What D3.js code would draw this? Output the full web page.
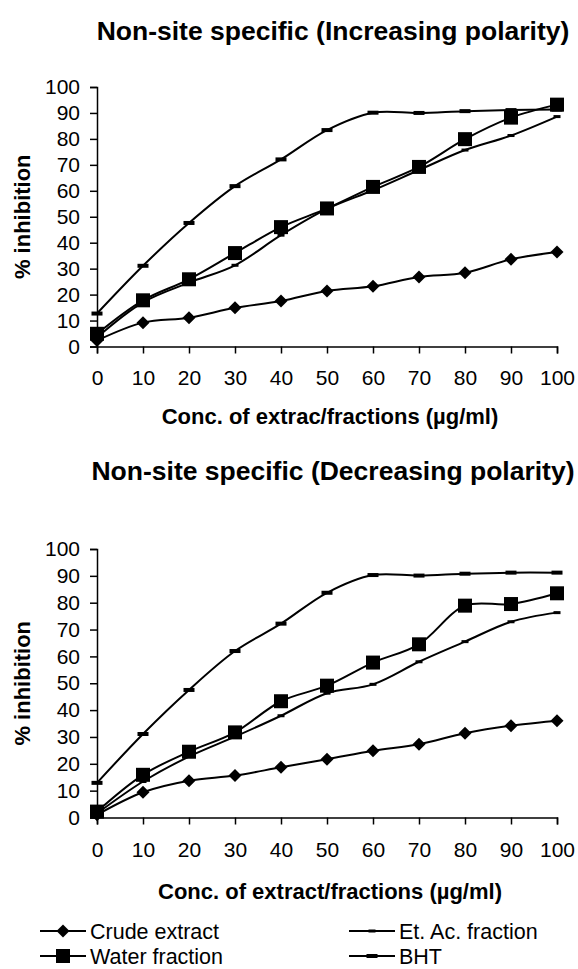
<!DOCTYPE html>
<html>
<head>
<meta charset="utf-8">
<title>Non-site specific inhibition</title>
<script src="https://cdnjs.cloudflare.com/ajax/libs/d3/7.8.5/d3.min.js"></script>
<style>
	body { margin: 0; background: #fff; }
	svg text { font-family: "Liberation Sans", Arial, Helvetica, sans-serif; fill: #000; }
</style>
</head>
<body>
<div id="chart"></div>
<script type="text/javascript">
	var width = 578;
	var height = 969;

	// concentrations (µg/ml)
	var conc = [0, 10, 20, 30, 40, 50, 60, 70, 80, 90, 100];
	var yTicks = [0, 10, 20, 30, 40, 50, 60, 70, 80, 90, 100];

	// increasing polarity
	var crudeInc = [2.3, 9.2, 11.1, 14.9, 17.5, 21.4, 23.2, 26.8, 28.4, 33.6, 36.4];
	var etacInc = [3.5, 17, 24.6, 31.3, 42.9, 53, 60.2, 68, 75.7, 81.3, 88.6];
	var waterInc = [4.9, 17.8, 25.9, 36, 46, 53.2, 61.5, 69.2, 79.9, 88.2, 93.2];
	var bhtInc = [12.7, 31.1, 47.6, 61.8, 72.1, 83.4, 90.1, 90, 90.7, 91.1, 91.3];

	// decreasing polarity
	var crudeDec = [1, 9.4, 13.7, 15.6, 18.7, 21.7, 24.9, 27.3, 31.4, 34.2, 36];
	var etacDec = [1.5, 13.4, 22.7, 30.1, 37.9, 46.3, 49.6, 58, 65.5, 72.9, 76.3];
	var waterDec = [2.2, 15.9, 24.5, 31.7, 43.3, 49.1, 57.7, 64.5, 78.9, 79.5, 83.5];
	var bhtDec = [12.9, 31.1, 47.5, 62, 72.2, 83.7, 90.3, 90.1, 90.8, 91.2, 91.2];

	var seriesNames = ["Crude extract", "Et. Ac. fraction", "Water fraction", "BHT"];
	var markerTypes = ["diamond", "smallDash", "square", "dash"];

	var svg = d3.select("#chart")
		.append("svg")
		.attr("width", width)
		.attr("height", height);

	// draws one marker at (0,0) inside g
	function drawMarker(g, type) {
		if (type == "diamond") {
			g.append("path").attr("d", "M0,-6.5L6.5,0L0,6.5L-6.5,0Z").attr("fill", "#000");
		} else if (type == "square") {
			g.append("rect").attr("x", -7).attr("y", -7).attr("width", 14).attr("height", 14).attr("fill", "#000");
		} else if (type == "dash") {
			g.append("rect").attr("x", -5.5).attr("y", -2).attr("width", 11).attr("height", 4).attr("fill", "#000");
		} else {
			g.append("rect").attr("x", -3.5).attr("y", -1.5).attr("width", 7).attr("height", 3).attr("fill", "#000");
		}
	}

	function drawPanel(opts) {
		var x = d3.scaleLinear().domain([0, 100]).range([97, 557]);
		var y = d3.scaleLinear().domain([0, 100]).range([opts.bottom, opts.top]);

		var g = svg.append("g");

		g.append("text")
			.attr("x", 333)
			.attr("y", opts.titleY)
			.attr("text-anchor", "middle")
			.attr("font-size", "26.5px")
			.attr("font-weight", "bold")
			.text(opts.title);

		var xAxis = d3.axisBottom(x).tickValues(conc).tickSize(7).tickPadding(opts.xPad).tickFormat(d3.format("d"));
		var yAxis = d3.axisLeft(y).tickValues(yTicks).tickSize(7).tickPadding(10).tickFormat(d3.format("d"));

		var gx = g.append("g").attr("transform", "translate(0," + opts.bottom + ")").call(xAxis);
		var gy = g.append("g").attr("transform", "translate(97,0)").call(yAxis);

		[gx, gy].forEach(function(ax) {
			ax.select(".domain").attr("stroke", "#000").attr("stroke-width", 1.5);
			ax.selectAll(".tick line").attr("stroke", "#000").attr("stroke-width", 1.5);
			ax.selectAll(".tick text")
				.attr("font-family", "Liberation Sans, Arial, sans-serif")
				.attr("font-size", "21px")
				.attr("fill", "#000");
		});

		g.append("text")
			.attr("x", 330)
			.attr("y", opts.xTitleY)
			.attr("text-anchor", "middle")
			.attr("font-size", "22px")
			.attr("font-weight", "bold")
			.text(opts.xTitle);

		g.append("text")
			.attr("transform", "translate(30," + ((opts.top + opts.bottom) / 2) + ") rotate(-90)")
			.attr("text-anchor", "middle")
			.attr("font-size", "22px")
			.attr("font-weight", "bold")
			.text("% inhibition");

		var line = d3.line()
			.x(function(d, i) { return x(conc[i]); })
			.y(function(d) { return y(d); })
			.curve(d3.curveCatmullRom.alpha(0.5));

		opts.series.forEach(function(values, s) {
			g.append("path")
				.datum(values)
				.attr("d", line)
				.attr("fill", "none")
				.attr("stroke", "#000")
				.attr("stroke-width", 2);

			g.selectAll(".m" + s)
				.data(values)
				.enter()
					.append("g")
					.attr("class", "m" + s)
					.attr("transform", function(d, i) { return "translate(" + x(conc[i]) + "," + y(d) + ")"; })
					.each(function() { drawMarker(d3.select(this), markerTypes[s]); });
		});
	}

	drawPanel({
		title: "Non-site specific (Increasing polarity)",
		titleY: 40,
		top: 87,
		bottom: 346.5,
		xPad: 17,
		xTitleY: 424,
		xTitle: "Conc. of extrac/fractions (µg/ml)",
		series: [crudeInc, etacInc, waterInc, bhtInc]
	});

	drawPanel({
		title: "Non-site specific (Decreasing polarity)",
		titleY: 480,
		top: 549,
		bottom: 817.5,
		xPad: 18,
		xTitleY: 899,
		xTitle: "Conc. of extract/fractions (µg/ml)",
		series: [crudeDec, etacDec, waterDec, bhtDec]
	});

	// legend
	var legendPos = [[40, 931], [349, 931], [40, 956], [349, 956]];
	var legend = svg.append("g");
	seriesNames.forEach(function(name, i) {
		var lg = legend.append("g").attr("transform", "translate(" + legendPos[i][0] + "," + legendPos[i][1] + ")");
		lg.append("line").attr("x1", 0).attr("x2", 46).attr("y1", 0).attr("y2", 0)
			.attr("stroke", "#000").attr("stroke-width", 2);
		drawMarker(lg.append("g").attr("transform", "translate(23,0)"), markerTypes[i]);
		lg.append("text")
			.attr("x", 50)
			.attr("y", 7.5)
			.attr("font-size", "21.5px")
			.text(name);
	});
</script>
</body>
</html>
